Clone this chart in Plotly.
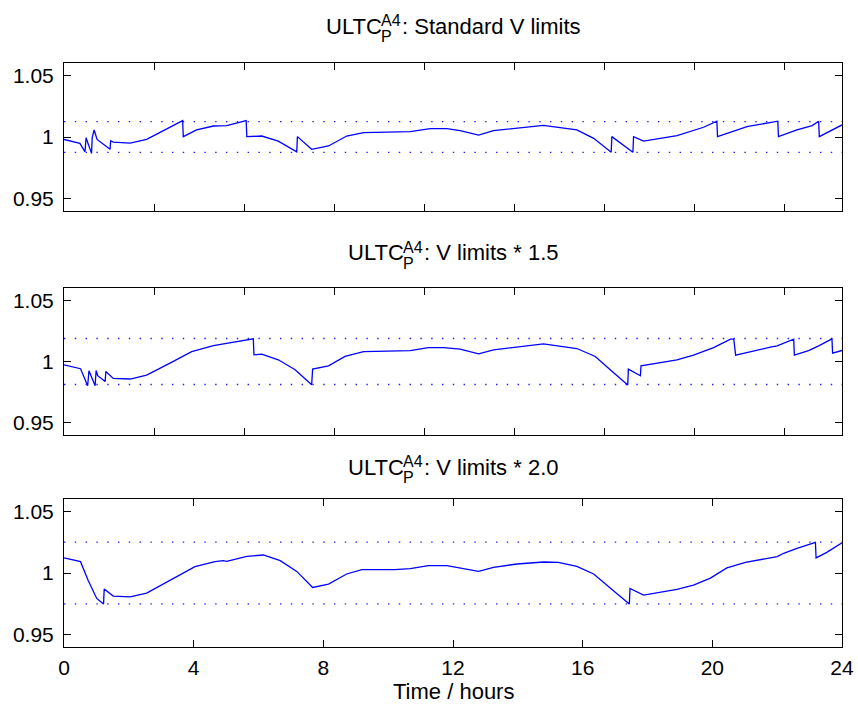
import plotly.graph_objects as go

# ---- data (hours, per-unit voltage) ----
t1 = [0, 0.49, 0.65, 0.68, 0.85, 0.87, 0.93, 1.02, 1.42, 1.44, 1.52, 2.04, 2.55, 3.32, 3.66, 3.68,
      4.09, 4.61, 5.02, 5.62, 5.64, 6.1, 6.61, 7.18, 7.20, 7.64, 8.16, 8.72, 9.24, 10.68, 11.3,
      11.81, 12.22, 12.79, 13.25, 14.79, 15.82, 16.34, 16.88, 16.90, 17.55, 17.57, 17.88, 18.91,
      19.42, 19.73, 20.14, 20.16, 21.07, 22.02, 22.04, 22.61, 23.08, 23.28, 23.30, 24.0]
v1 = [0.998, 0.9949, 0.988, 0.9994, 0.9867, 0.9995, 1.0057, 0.998, 0.990, 0.997, 0.9959, 0.9951,
      0.9981, 1.0089, 1.0133, 1.0003, 1.0057, 1.0089, 1.0092, 1.0133, 1.0003, 1.0008, 0.9967,
      0.988, 1.0003, 0.990, 0.9927, 1.0008, 1.0035, 1.0043, 1.0068, 1.0068, 1.0051, 1.0016,
      1.0051, 1.0095, 1.0057, 0.9989, 0.9876, 1.0003, 0.9876, 1.0003, 0.9967, 1.0011, 1.0051,
      1.0079, 1.0128, 1.0003, 1.0084, 1.0128, 1.0003, 1.0057, 1.0092, 1.0128, 1.0003, 1.0098]

t2 = [0, 0.51, 0.73, 0.77, 0.96, 0.99, 1.04, 1.27, 1.29, 1.52, 2.04, 2.55, 3.27, 3.94, 4.61, 5.17,
      5.84, 5.86, 6.1, 6.61, 7.13, 7.64, 7.67, 8.16, 8.67, 9.24, 10.68, 11.24, 11.71, 12.22,
      12.79, 13.25, 14.79, 15.82, 16.39, 16.85, 17.39, 17.41, 17.78, 17.80, 18.91, 19.42, 20.04,
      20.56, 20.66, 20.72, 21.28, 21.79, 22.0, 22.51, 22.53, 22.97, 23.28, 23.69, 23.71, 24.0]
v2 = [0.9973, 0.9941, 0.9802, 0.9924, 0.9802, 0.9927, 0.9884, 0.9837, 0.9919, 0.9862, 0.9857,
      0.9889, 0.9987, 1.0081, 1.013, 1.0154, 1.0185, 1.0054, 1.006, 1.0014, 0.9933, 0.9811,
      0.9938, 0.9965, 1.0041, 1.0081, 1.0089, 1.0114, 1.0114, 1.0101, 1.0063, 1.0095, 1.0144,
      1.0106, 1.0041, 0.9933, 0.9808, 0.9938, 0.9884, 0.9965, 1.0014, 1.0052, 1.0114, 1.0182,
      1.0182, 1.0052, 1.0089, 1.0117, 1.0128, 1.0182, 1.0052, 1.0089, 1.0128, 1.0185, 1.0068,
      1.009]

t3 = [0, 0.51, 0.75, 1.01, 1.22, 1.24, 1.52, 2.04, 2.55, 3.27, 4.04, 4.66, 4.91, 5.02, 5.64, 6.15,
      6.67, 7.18, 7.67, 8.16, 8.72, 9.19, 10.2, 10.68, 11.24, 11.81, 12.22, 12.79, 13.25, 13.97,
      14.79, 15.25, 15.82, 16.34, 16.95, 17.44, 17.46, 17.88, 18.91, 19.42, 19.94, 20.45, 21.02,
      22.0, 22.2, 22.61, 23.18, 23.20, 23.53, 24.0]
v3 = [1.0122, 1.0092, 0.9937, 0.9794, 0.9748, 0.987, 0.9813, 0.9807, 0.9837, 0.9943, 1.0051,
      1.0092, 1.01, 1.0094, 1.0135, 1.0146, 1.01, 1.0013, 0.9883, 0.991, 0.9992, 1.0027, 1.0027,
      1.0035, 1.0059, 1.0059, 1.004, 1.0013, 1.0046, 1.0073, 1.0089, 1.0086, 1.0054, 0.9992,
      0.9856, 0.9748, 0.9875, 0.9821, 0.9867, 0.9902, 0.9959, 1.0041, 1.0086, 1.0133, 1.016,
      1.02, 1.0249, 1.0122, 1.0167, 1.0245]

limits = [0.0125, 0.01875, 0.025]
titles = ["Standard V limits", "V limits * 1.5", "V limits * 2.0"]
y_ticks = [0.95, 1.0, 1.05]
y_tick_text = ["0.95", "1", "1.05"]
x_ticks_bottom = [0, 4, 8, 12, 16, 20, 24]
x_ticks_top = [k * 10000 / 3600 for k in range(1, 9)]  # hidden ticks every 10000 s
x_label = "Time / hours"

W, H = 858, 711
FONT = "Liberation Sans, Arial, Helvetica, sans-serif"
FS = 21      # tick labels
FT = 22      # titles
FX = 22      # axis label

# pixel layout
x_left, x_right = 64, 842
rows_px = [(63, 211), (288, 435), (499, 647)]

fig = go.Figure()
series = [(t1, v1), (t2, v2), (t3, v3)]
for i, ((t, v), lim) in enumerate(zip(series, limits)):
    ax = "" if i == 0 else str(i + 1)
    for lv in (1 + lim, 1 - lim):
        fig.add_trace(go.Scatter(x=[0, 24], y=[lv, lv], mode="lines",
                                 line=dict(color="#1a1aff", width=1.4, dash="1.4px,9.4px"),
                                 xaxis="x" + ax, yaxis="y" + ax, showlegend=False,
                                 hoverinfo="skip"))
    fig.add_trace(go.Scatter(x=t, y=v, mode="lines",
                             line=dict(color="#0000ff", width=1.3),
                             xaxis="x" + ax, yaxis="y" + ax, showlegend=False))

layout = dict(template="none", width=W, height=H,
              margin=dict(l=0, r=0, t=0, b=0, pad=0, autoexpand=False),
              paper_bgcolor="white", plot_bgcolor="white", showlegend=False,
              font=dict(family=FONT, size=FS, color="black"))

for i, (top, bot) in enumerate(rows_px):
    ax = "" if i == 0 else str(i + 1)
    bottom = i == 2
    layout["xaxis" + ax] = dict(
        domain=[x_left / W, x_right / W], range=[0, 24], anchor="y" + ax,
        tickmode="array", automargin=False,
        tickvals=x_ticks_bottom if bottom else x_ticks_top,
        ticktext=[str(v) for v in x_ticks_bottom] if bottom else None,
        showticklabels=bottom, ticks="inside", ticklen=7, tickcolor="black", tickwidth=1,
        showline=True, linecolor="black", linewidth=1, mirror="ticks",
        showgrid=False, zeroline=False, tickfont=dict(size=FS), ticklabelstandoff=2,
    )
    layout["yaxis" + ax] = dict(
        domain=[(H - bot) / H, (H - top) / H], range=[0.94, 1.06], anchor="x" + ax,
        tickmode="array", tickvals=y_ticks, ticktext=y_tick_text, automargin=False,
        ticks="inside", ticklen=7, tickcolor="black", tickwidth=1,
        showline=True, linecolor="black", linewidth=1, mirror="ticks",
        showgrid=False, zeroline=False, tickfont=dict(size=FS), ticklabelstandoff=5,
    )

fig.update_layout(**layout)

# titles with stacked super/subscript, built from pieces
def text_w(s, size):
    widths = {'U': .722, 'L': .556, 'T': .611, 'C': .722, 'A': .667, '4': .556, 'P': .667,
              ':': .278, ' ': .278, 'S': .667, 't': .278, 'a': .556, 'n': .556, 'd': .556,
              'r': .333, 'V': .667, 'l': .222, 'i': .222, 'm': .833, 's': .5, '*': .389,
              '1': .556, '.': .278, '5': .556, '2': .556, '0': .556}
    return sum(widths.get(c, .556) for c in s) * size

SS = round(FT * 0.72)
title_y_px = [27, 253, 467]
cx = (x_left + x_right) / 2
for ttl, ypx in zip(titles, title_y_px):
    rest = ": " + ttl
    wu, ws, wr = text_w("ULTC", FT), text_w("A4", SS), text_w(rest, FT)
    a = cx - (wu + ws + wr) / 2 + wu
    common = dict(xref="paper", yref="paper", showarrow=False, yanchor="middle", borderpad=0)
    fig.add_annotation(text="ULTC", x=a / W, y=1 - ypx / H, xanchor="right",
                       font=dict(size=FT), **common)
    fig.add_annotation(text="A4", x=(a - 3) / W, y=1 - (ypx - 6) / H, xanchor="left",
                       font=dict(size=SS), **common)
    fig.add_annotation(text="P", x=(a - 3) / W, y=1 - (ypx + 10) / H, xanchor="left",
                       font=dict(size=SS), **common)
    fig.add_annotation(text=rest, x=(a + ws - 1) / W, y=1 - ypx / H, xanchor="left",
                       font=dict(size=FT), **common)

fig.add_annotation(text=x_label, x=cx / W, y=1 - 691 / H, xref="paper", yref="paper",
                   showarrow=False, xanchor="center", yanchor="middle", font=dict(size=FX))

fig.write_html("out.html",
               post_script="document.body.style.margin='0';document.body.style.overflow='hidden';")
